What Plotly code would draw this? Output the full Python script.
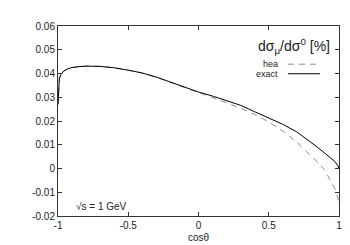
import plotly.graph_objects as go

cos_theta = [-1.0, -0.995, -0.99, -0.98, -0.96, -0.93, -0.9, -0.85, -0.8, -0.7, -0.6, -0.5,
             -0.4, -0.3, -0.2, -0.1, 0.0, 0.1, 0.2, 0.3, 0.4, 0.5, 0.6, 0.7, 0.8, 0.85,
             0.9, 0.94, 0.97, 0.99, 1.0]
exact = [0.027, 0.036, 0.038, 0.0395, 0.041, 0.042, 0.0425, 0.0429, 0.0431, 0.0430, 0.0424, 0.0414,
         0.0402, 0.0385, 0.0364, 0.0343, 0.0322, 0.0305, 0.0287, 0.0266, 0.0239, 0.0214, 0.0186,
         0.0154, 0.0112, 0.0088, 0.0064, 0.0045, 0.0030, 0.0014, 0.0]
hea = [0.027, 0.036, 0.038, 0.0395, 0.041, 0.042, 0.0425, 0.0429, 0.0431, 0.0430, 0.0424, 0.0414,
       0.0402, 0.0384, 0.0363, 0.0341, 0.0318, 0.0298, 0.0277, 0.0253, 0.0228, 0.0196, 0.0158,
       0.0110, 0.0053, 0.0025, -0.0008, -0.0050, -0.0085, -0.0120, -0.0144]

x_ticks = [-1, -0.5, 0, 0.5, 1]
x_ticklabels = ["-1", "-0.5", "0", "0.5", "1"]
y_ticks = [0.06, 0.05, 0.04, 0.03, 0.02, 0.01, 0, -0.01, -0.02]
y_ticklabels = ["0.06", "0.05", "0.04", "0.03", "0.02", "0.01", "0", "-0.01", "-0.02"]

FONT = "Liberation Sans, Arial, sans-serif"

fig = go.Figure()
fig.add_trace(go.Scatter(x=cos_theta, y=hea, mode="lines", name="hea",
                         line=dict(color="#8c8c8c", width=1, dash="6px,5px")))
fig.add_trace(go.Scatter(x=cos_theta, y=exact, mode="lines", name="exact",
                         line=dict(color="black", width=1)))

axis_common = dict(showline=True, linecolor="#333", linewidth=1, mirror="ticks",
                   ticks="inside", ticklen=4, tickcolor="#333", showgrid=False,
                   zeroline=False, tickfont=dict(family=FONT, size=10, color="#222"))

fig.update_xaxes(range=[-1, 1], tickvals=x_ticks, ticktext=x_ticklabels,
                 title=dict(text="cosθ", font=dict(family=FONT, size=10, color="#222"), standoff=3),
                 **axis_common)
fig.update_yaxes(range=[-0.02, 0.06], tickvals=y_ticks, ticktext=y_ticklabels, **axis_common)

# key drawn at top right
x_line0, x_line1 = (280 - 50) / 281, (312 - 50) / 281
y_hea, y_exact = (212 - 53) / 199, (212 - 63) / 199
fig.add_shape(type="line", xref="paper", yref="paper", x0=x_line0, x1=x_line1, y0=y_hea, y1=y_hea,
              line=dict(color="#8c8c8c", width=1, dash="6px,5px"))
fig.add_shape(type="line", xref="paper", yref="paper", x0=x_line0, x1=x_line1, y0=y_exact, y1=y_exact,
              line=dict(color="black", width=1))
fig.add_annotation(xref="paper", yref="paper", x=(272 - 50) / 281, y=y_hea, text="hea",
                   showarrow=False, xanchor="right", yanchor="middle",
                   font=dict(family=FONT, size=9, color="#222"))
fig.add_annotation(xref="paper", yref="paper", x=(272 - 50) / 281, y=y_exact, text="exact",
                   showarrow=False, xanchor="right", yanchor="middle",
                   font=dict(family=FONT, size=9, color="#222"))
fig.add_annotation(xref="paper", yref="paper", x=(324 - 50) / 281, y=(212 - 34) / 199,
                   text="dσ<sub>μ</sub>/dσ<sup>0</sup> [%]", showarrow=False,
                   xanchor="right", yanchor="middle",
                   font=dict(family=FONT, size=14, color="#222"))
fig.add_annotation(xref="paper", yref="paper", x=(66 - 50) / 281, y=(212 - 202) / 199,
                   text="√s = 1 GeV", showarrow=False, xanchor="left", yanchor="middle",
                   font=dict(family=FONT, size=10, color="#222"))

fig.update_layout(width=350, height=245, margin=dict(l=50, r=19, t=13, b=33),
                  paper_bgcolor="white", plot_bgcolor="white", showlegend=False)

fig.write_html("out.html")
